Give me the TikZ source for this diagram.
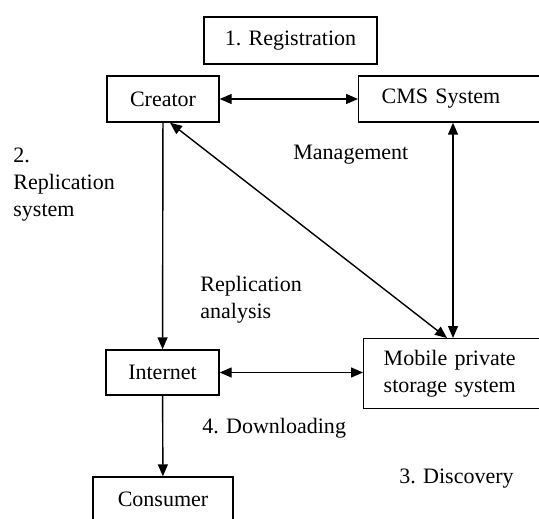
\documentclass[tikz,border=0pt]{standalone}
\usepackage{fontspec}
\setmainfont{Liberation Serif}
\usetikzlibrary{arrows.meta, positioning}

\begin{document}
\begin{tikzpicture}[
      x=0.5pt, y=-0.5pt,
      font=\fontsize{11}{13.5}\selectfont,
      box/.style={rectangle, draw, line width=0.7pt, inner sep=0pt, align=center},
      lbl/.style={anchor=west, inner sep=0pt, align=left},
      arrow/.style={-{Triangle[length=6pt,width=5pt]}, line width=0.7pt},
      twoway/.style={{Triangle[length=6pt,width=5pt]}-{Triangle[length=6pt,width=5pt]}, line width=0.7pt}
    ]
    \useasboundingbox (0,0) rectangle (539,518);
    \clip (0,0) rectangle (539,518);

    \node[box, minimum width=86.5pt, minimum height=23.5pt] (reg) at (290.5,40.5) {1. Registration};
    \node[box, minimum width=56pt, minimum height=23pt] (creator) at (163,99) {Creator};
    \node[box, anchor=west, align=left, text width=100pt, inner xsep=11.5pt, minimum height=23pt] (cms) at (358,99) {CMS System};
    \node[box, anchor=north west, align=left, text width=100pt, inner xsep=10pt, minimum height=35pt] (mobile) at (363,338) {Mobile private\\storage system};
    \node[box, minimum width=56.5pt, minimum height=22.5pt] (internet) at (162.5,372.5) {Internet};
    \node[box, minimum width=70pt, minimum height=22pt] (consumer) at (163,499) {Consumer};

    \node[lbl] (repsys) at (13,185) {2.\\Replication\\system};
    \node[lbl] (manage) at (293,155) {Management};
    \node[lbl] (repana) at (200,300) {Replication\\analysis};
    \node[lbl] (down) at (202,428) {4. Downloading};
    \node[lbl] (disc) at (399,479) {3. Discovery};

    \draw[twoway] (creator) -- (cms);
    \draw[arrow] (creator) -- (internet);
    \draw[arrow] (internet) -- (consumer);
    \draw[twoway] (internet) -- (mobile.west |- internet);
    \draw[twoway] ([xshift=47.5pt]cms.south west) -- ([xshift=45pt]mobile.north west);
    \draw[twoway] ([xshift=3.5pt]creator.south) -- ([xshift=42pt]mobile.north west);
  \end{tikzpicture}
\end{document}
